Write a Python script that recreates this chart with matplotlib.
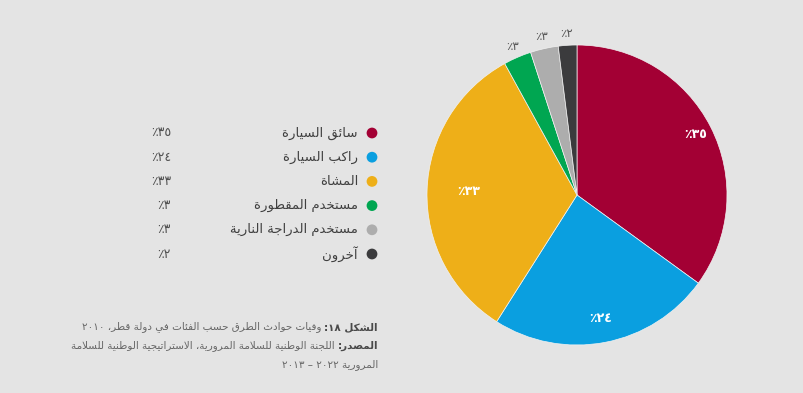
import re
import numpy as np
import matplotlib
matplotlib.use("Agg")
import matplotlib.pyplot as plt

# data
categories = ["سائق السيارة", "راكب السيارة", "المشاة", "مستخدم المقطورة",
              "مستخدم الدراجة النارية", "آخرون"]
shares = [35, 24, 33, 3, 3, 2]
share_labels = ["٣٥٪", "٢٤٪", "٣٣٪", "٣٪", "٣٪", "٢٪"]
colors = ["#A30034", "#0A9FE0", "#EEAF18", "#00A651", "#ADADAD", "#3B3B3D"]
caption_bold = ["الشكل ١٨:", "المصدر:", ""]
caption_rest = ["وفيات حوادث الطرق حسب الفئات في دولة قطر، ٢٠١٠",
                "اللجنة الوطنية للسلامة المرورية، الاستراتيجية الوطنية للسلامة",
                "المرورية ٢٠٢٢ – ٢٠١٣"]

# --- tiny arabic shaper (matplotlib does no shaping / bidi) ---
FOUR = {'ئ': 0xFE89, 'ب': 0xFE8F, 'ت': 0xFE95, 'ث': 0xFE99, 'ج': 0xFE9D, 'ح': 0xFEA1,
        'خ': 0xFEA5, 'س': 0xFEB1, 'ش': 0xFEB5, 'ص': 0xFEB9, 'ض': 0xFEBD, 'ط': 0xFEC1,
        'ظ': 0xFEC5, 'ع': 0xFEC9, 'غ': 0xFECD, 'ف': 0xFED1, 'ق': 0xFED5, 'ك': 0xFED9,
        'ل': 0xFEDD, 'م': 0xFEE1, 'ن': 0xFEE5, 'ه': 0xFEE9, 'ي': 0xFEF1}
TWO = {'آ': 0xFE81, 'أ': 0xFE83, 'ؤ': 0xFE85, 'إ': 0xFE87, 'ا': 0xFE8D, 'ة': 0xFE93,
       'د': 0xFEA9, 'ذ': 0xFEAB, 'ر': 0xFEAD, 'ز': 0xFEAF, 'و': 0xFEED, 'ى': 0xFEEF}
LAMALEF = {'ا': 0xFEFB, 'آ': 0xFEF5, 'أ': 0xFEF7, 'إ': 0xFEF9}


def shape(txt):
    out = []
    i = 0
    n = len(txt)
    while i < n:
        c = txt[i]
        prev = txt[i - 1] if i > 0 else ''
        nxt = txt[i + 1] if i + 1 < n else ''
        p = prev in FOUR
        if c == 'ل' and nxt in LAMALEF:
            out.append(chr(LAMALEF[nxt] + (1 if p else 0)))
            i += 2
            continue
        if c in FOUR:
            q = nxt in FOUR or nxt in TWO
            b = FOUR[c]
            if p and q:
                out.append(chr(b + 3))
            elif p:
                out.append(chr(b + 1))
            elif q:
                out.append(chr(b + 2))
            else:
                out.append(chr(b))
        elif c in TWO:
            out.append(chr(TWO[c] + (1 if p else 0)))
        else:
            out.append(c)
        i += 1
    return ''.join(out)


def vis(txt):
    s = shape(txt)[::-1]
    return re.sub(r'[0-9\u0660-\u0669]+', lambda m: m.group(0)[::-1], s)


plt.rcParams['font.family'] = ['DejaVu Sans']
bg = "#E4E4E4"
W, H = 804, 393
fig = plt.figure(figsize=(W / 100, H / 100), dpi=100, facecolor=bg)

# overlay axes in pixel coordinates for legend + caption
ov = fig.add_axes([0, 0, 1, 1])
ov.set_xlim(0, W)
ov.set_ylim(H, 0)
ov.axis("off")

row0, step = 133, 24.2
for k, (cat, lab, col) in enumerate(zip(categories, share_labels, colors)):
    y = row0 + k * step
    ov.scatter([372], [y], s=60, color=col, edgecolors="none")
    ov.text(358, y, vis(cat), ha="right", va="center", fontsize=9.5, color="#404040")
    ov.text(171, y, vis(lab), ha="right", va="center", fontsize=9, color="#505050")

# caption, right aligned with bold prefix
fig.canvas.draw()
rend = fig.canvas.get_renderer()
cap_right = 378
for k, (b, r) in enumerate(zip(caption_bold, caption_rest)):
    y = 327 + k * 19
    x = cap_right
    if b:
        tb = ov.text(x, y, vis(b), ha="right", va="center", fontsize=7.5,
                     fontweight="bold", color="#4a4a4a")
        bb = tb.get_window_extent(renderer=rend)
        x = bb.x0 - 3
    ov.text(x, y, vis(r), ha="right", va="center", fontsize=7.5, color="#666666")

# pie
ax = fig.add_axes([427 / W, 48 / H, 300 / W, 300 / H])
wedges, _ = ax.pie(shares, colors=colors, startangle=90, counterclock=False,
                   wedgeprops=dict(edgecolor="#f2f2f2", linewidth=0.5))
ax.set_xlim(-1, 1)
ax.set_ylim(-1, 1)
ax.set_aspect("equal")

label_r = [0.89, 0.84, 0.72, 1.08, 1.08, 1.08]
for w, lab, r, v in zip(wedges, share_labels, label_r, shares):
    th = np.deg2rad((w.theta1 + w.theta2) / 2)
    inside = r < 1
    ax.text(r * np.cos(th), r * np.sin(th), vis(lab), ha="center", va="center",
            fontsize=9 if inside else 8.5, fontweight="bold" if inside else "normal",
            color="white" if inside else "#555555", clip_on=False)

fig.savefig("out.png", dpi=100, facecolor=bg)
